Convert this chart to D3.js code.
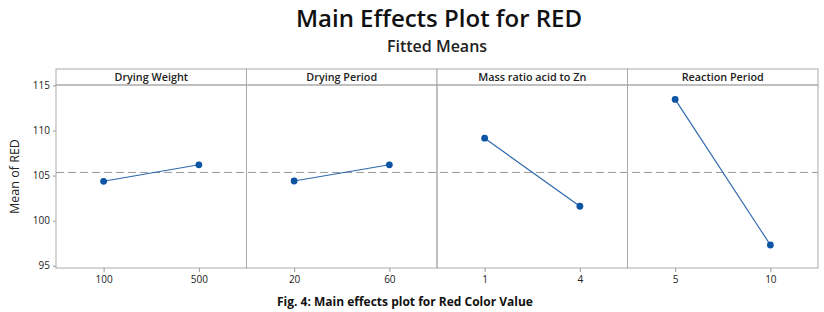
<!DOCTYPE html>
<html>
<head>
<meta charset="utf-8">
<script src="https://cdn.jsdelivr.net/npm/d3@7"></script>
<style>
  body { margin: 0; background: #fff; }
  text { font-family: "Open Sans", "DejaVu Sans", sans-serif; }
</style>
</head>
<body>
<div id="chart"></div>
<script>
const width = 824;
const height = 312;

// factors, their levels and the fitted means
const factors = ["Drying Weight", "Drying Period", "Mass ratio acid to Zn", "Reaction Period"];
const levels = [["100", "500"], ["20", "60"], ["1", "4"], ["5", "10"]];
const means = [[104.37, 106.2], [104.4, 106.2], [109.15, 101.6], [113.45, 97.3]];
const grandMean = 105.35;
const yTicks = [95, 100, 105, 110, 115];

const padLeft = 56, padRight = 818, padTop = 69, stripH = 16, padBottom = 268;

const svg = d3.select("#chart")
    .append("svg")
        .attr("width", width)
        .attr("height", height);

svg.append("text")
    .attr("x", 439).attr("y", 27)
    .attr("text-anchor", "middle")
    .attr("font-size", 24)
    .attr("font-weight", 600)
    .attr("fill", "#111")
    .text("Main Effects Plot for RED");

svg.append("text")
    .attr("x", 437).attr("y", 52)
    .attr("text-anchor", "middle")
    .attr("font-size", 16)
    .attr("font-weight", 600)
    .attr("fill", "#222")
    .text("Fitted Means");

const y = d3.scaleLinear().domain([94.75, 115.05]).range([padBottom, padTop + stripH]);
const panel = d3.scaleBand().domain(factors).range([padLeft, padRight]);

const line = d3.line()
    .x(function(d) { return d.x })
    .y(function(d) { return y(d.v) });

// y axis
const yAxis = svg.append("g")
    .attr("transform", `translate(${padLeft},0)`)
    .call(d3.axisLeft(y).tickValues(yTicks).tickSize(3).tickPadding(3));
yAxis.select(".domain").remove();
yAxis.selectAll("line").attr("stroke", "#999");
yAxis.selectAll("text").attr("font-size", 10).attr("fill", "#222");

svg.append("text")
    .attr("transform", `translate(19,${(padTop + stripH + padBottom) / 2}) rotate(-90)`)
    .attr("text-anchor", "middle")
    .attr("font-size", 12.5)
    .attr("font-weight", 500)
    .attr("fill", "#222")
    .text("Mean of RED");

// reference line for the grand mean
svg.append("line")
    .attr("x1", padLeft).attr("x2", padRight)
    .attr("y1", y(grandMean)).attr("y2", y(grandMean))
    .attr("stroke", "#999")
    .attr("stroke-width", 1)
    .attr("stroke-dasharray", "8,4");

factors.forEach((f, i) => {
    const x0 = panel(f);
    const w = panel.bandwidth();
    const x = d3.scalePoint().domain(levels[i]).range([x0, x0 + w]).padding(0.5);

    const g = svg.append("g");

    // strip header
    g.append("rect")
        .attr("x", x0).attr("y", padTop)
        .attr("width", w).attr("height", stripH)
        .attr("fill", "#fff")
        .attr("stroke", "#aaa");
    g.append("text")
        .attr("x", x0 + w / 2).attr("y", padTop + 11.8)
        .attr("text-anchor", "middle")
        .attr("font-size", 10.8)
        .attr("font-weight", 600)
        .attr("fill", "#222")
        .text(f);

    // panel frame
    g.append("rect")
        .attr("x", x0).attr("y", padTop + stripH)
        .attr("width", w).attr("height", padBottom - padTop - stripH)
        .attr("fill", "none")
        .attr("stroke", "#aaa");

    // x axis
    const xAxis = g.append("g")
        .attr("transform", `translate(0,${padBottom})`)
        .call(d3.axisBottom(x).tickSize(4).tickPadding(4));
    xAxis.select(".domain").remove();
    xAxis.selectAll("line").attr("stroke", "#999");
    xAxis.selectAll("text").attr("font-size", 10).attr("fill", "#222");

    const pts = levels[i].map((l, j) => ({ x: x(l), v: means[i][j] }));

    g.append("path")
        .datum(pts)
        .attr("fill", "none")
        .attr("stroke", "#2f68ad")
        .attr("stroke-width", 1.2)
        .attr("d", line);

    g.selectAll("circle")
        .data(pts)
        .join("circle")
            .attr("cx", d => d.x)
            .attr("cy", d => y(d.v))
            .attr("r", 3.4)
            .attr("fill", "#0d55a3");
});

// figure caption at the bottom edge
svg.append("text")
    .attr("x", 405).attr("y", 306)
    .attr("text-anchor", "middle")
    .attr("font-size", 12)
    .attr("font-weight", "bold")
    .attr("fill", "#111")
    .text("Fig. 4: Main effects plot for Red Color Value");
</script>
</body>
</html>
